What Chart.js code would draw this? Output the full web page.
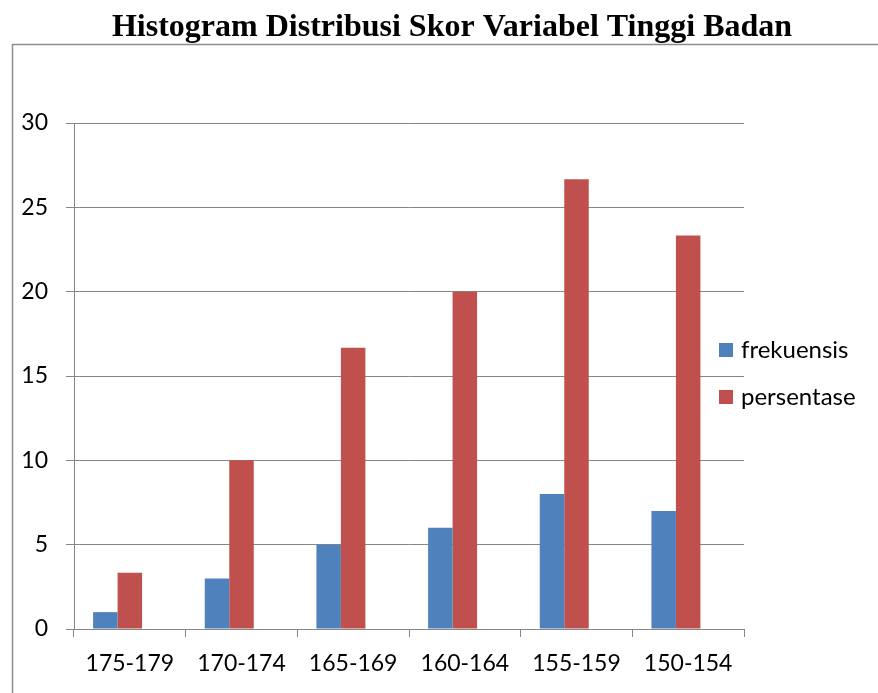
<!DOCTYPE html>
<html><head><meta charset="utf-8">
<script src="https://cdn.jsdelivr.net/npm/chart.js@4.4.0/dist/chart.umd.min.js"></script>
<style>html,body{margin:0;padding:0;background:#fff}#wrap{position:relative;width:878px;height:693px}</style>
</head><body><div id="wrap"><canvas id="c" width="878" height="693"></canvas></div>
<script>
const chartTitle = 'Histogram Distribusi Skor Variabel Tinggi Badan';
const categories = ['175-179', '170-174', '165-169', '160-164', '155-159', '150-154'];
const frekuensis = [1, 3, 5, 6, 8, 7];
const persentase = [3.33, 10, 16.67, 20, 26.67, 23.33];
const emptySeries = [null, null, null, null, null, null];
const seriesNames = ['frekuensis', 'persentase'];
const yMin = 0, yMax = 30, yStep = 5;

const tickFont = { family: 'Lato', size: 23 };
const gridColor = '#868686';

const framePlugin = {
  id: 'frame',
  beforeDraw(chart) {
    const ctx = chart.ctx;
    ctx.save();
    ctx.strokeStyle = '#8c8c8c';
    ctx.lineWidth = 1.5;
    ctx.beginPath();
    ctx.moveTo(12.5, 693);
    ctx.lineTo(12.5, 44.5);
    ctx.lineTo(878, 44.5);
    ctx.stroke();
    ctx.fillStyle = '#000';
    ctx.font = 'bold 32px "Liberation Serif"';
    ctx.textAlign = 'center';
    ctx.textBaseline = 'alphabetic';
    ctx.fillText(chartTitle, 452, 36);
    ctx.restore();
  },
  afterDraw(chart) {
    const ctx = chart.ctx;
    ctx.save();
    const ys = [350, 397];
    chart.data.datasets.slice(0, 2).forEach((ds, i) => {
      ctx.fillStyle = ds.backgroundColor;
      ctx.fillRect(719, ys[i] - 7, 14, 14);
      ctx.fillStyle = '#000';
      ctx.font = '24px Lato';
      ctx.textAlign = 'left';
      ctx.textBaseline = 'middle';
      ctx.fillText(ds.label, 741, ys[i]);
    });
    ctx.restore();
  }
};

new Chart(document.getElementById('c'), {
  type: 'bar',
  data: {
    labels: categories,
    datasets: [
      { label: seriesNames[0], data: frekuensis, backgroundColor: '#4F81BD' },
      { label: seriesNames[1], data: persentase, backgroundColor: '#C0504D' },
      { label: '', data: emptySeries, backgroundColor: 'rgba(0,0,0,0)' }
    ]
  },
  options: {
    responsive: false,
    animation: false,
    devicePixelRatio: 1,
    layout: { padding: { top: 123, right: 134, bottom: 0, left: 0 } },
    datasets: { bar: { categoryPercentage: 0.658, barPercentage: 1 } },
    plugins: {
      legend: { display: false },
      title: { display: false },
      tooltip: { enabled: false }
    },
    scales: {
      x: {
        offset: true,
        grid: { display: true, drawOnChartArea: false, drawTicks: true, tickLength: 8, color: gridColor, offset: true },
        border: { color: gridColor },
        ticks: { font: tickFont, color: '#000', padding: 13, maxRotation: 0 },
        afterFit(scale) { scale.height = 64; }
      },
      y: {
        min: yMin, max: yMax,
        grid: { color: gridColor, tickLength: 8, drawTicks: true },
        border: { color: gridColor },
        ticks: { stepSize: yStep, font: tickFont, color: '#000', padding: 18 },
        afterFit(scale) { scale.width = 74; }
      }
    }
  },
  plugins: [framePlugin]
});
</script>
</body></html>
